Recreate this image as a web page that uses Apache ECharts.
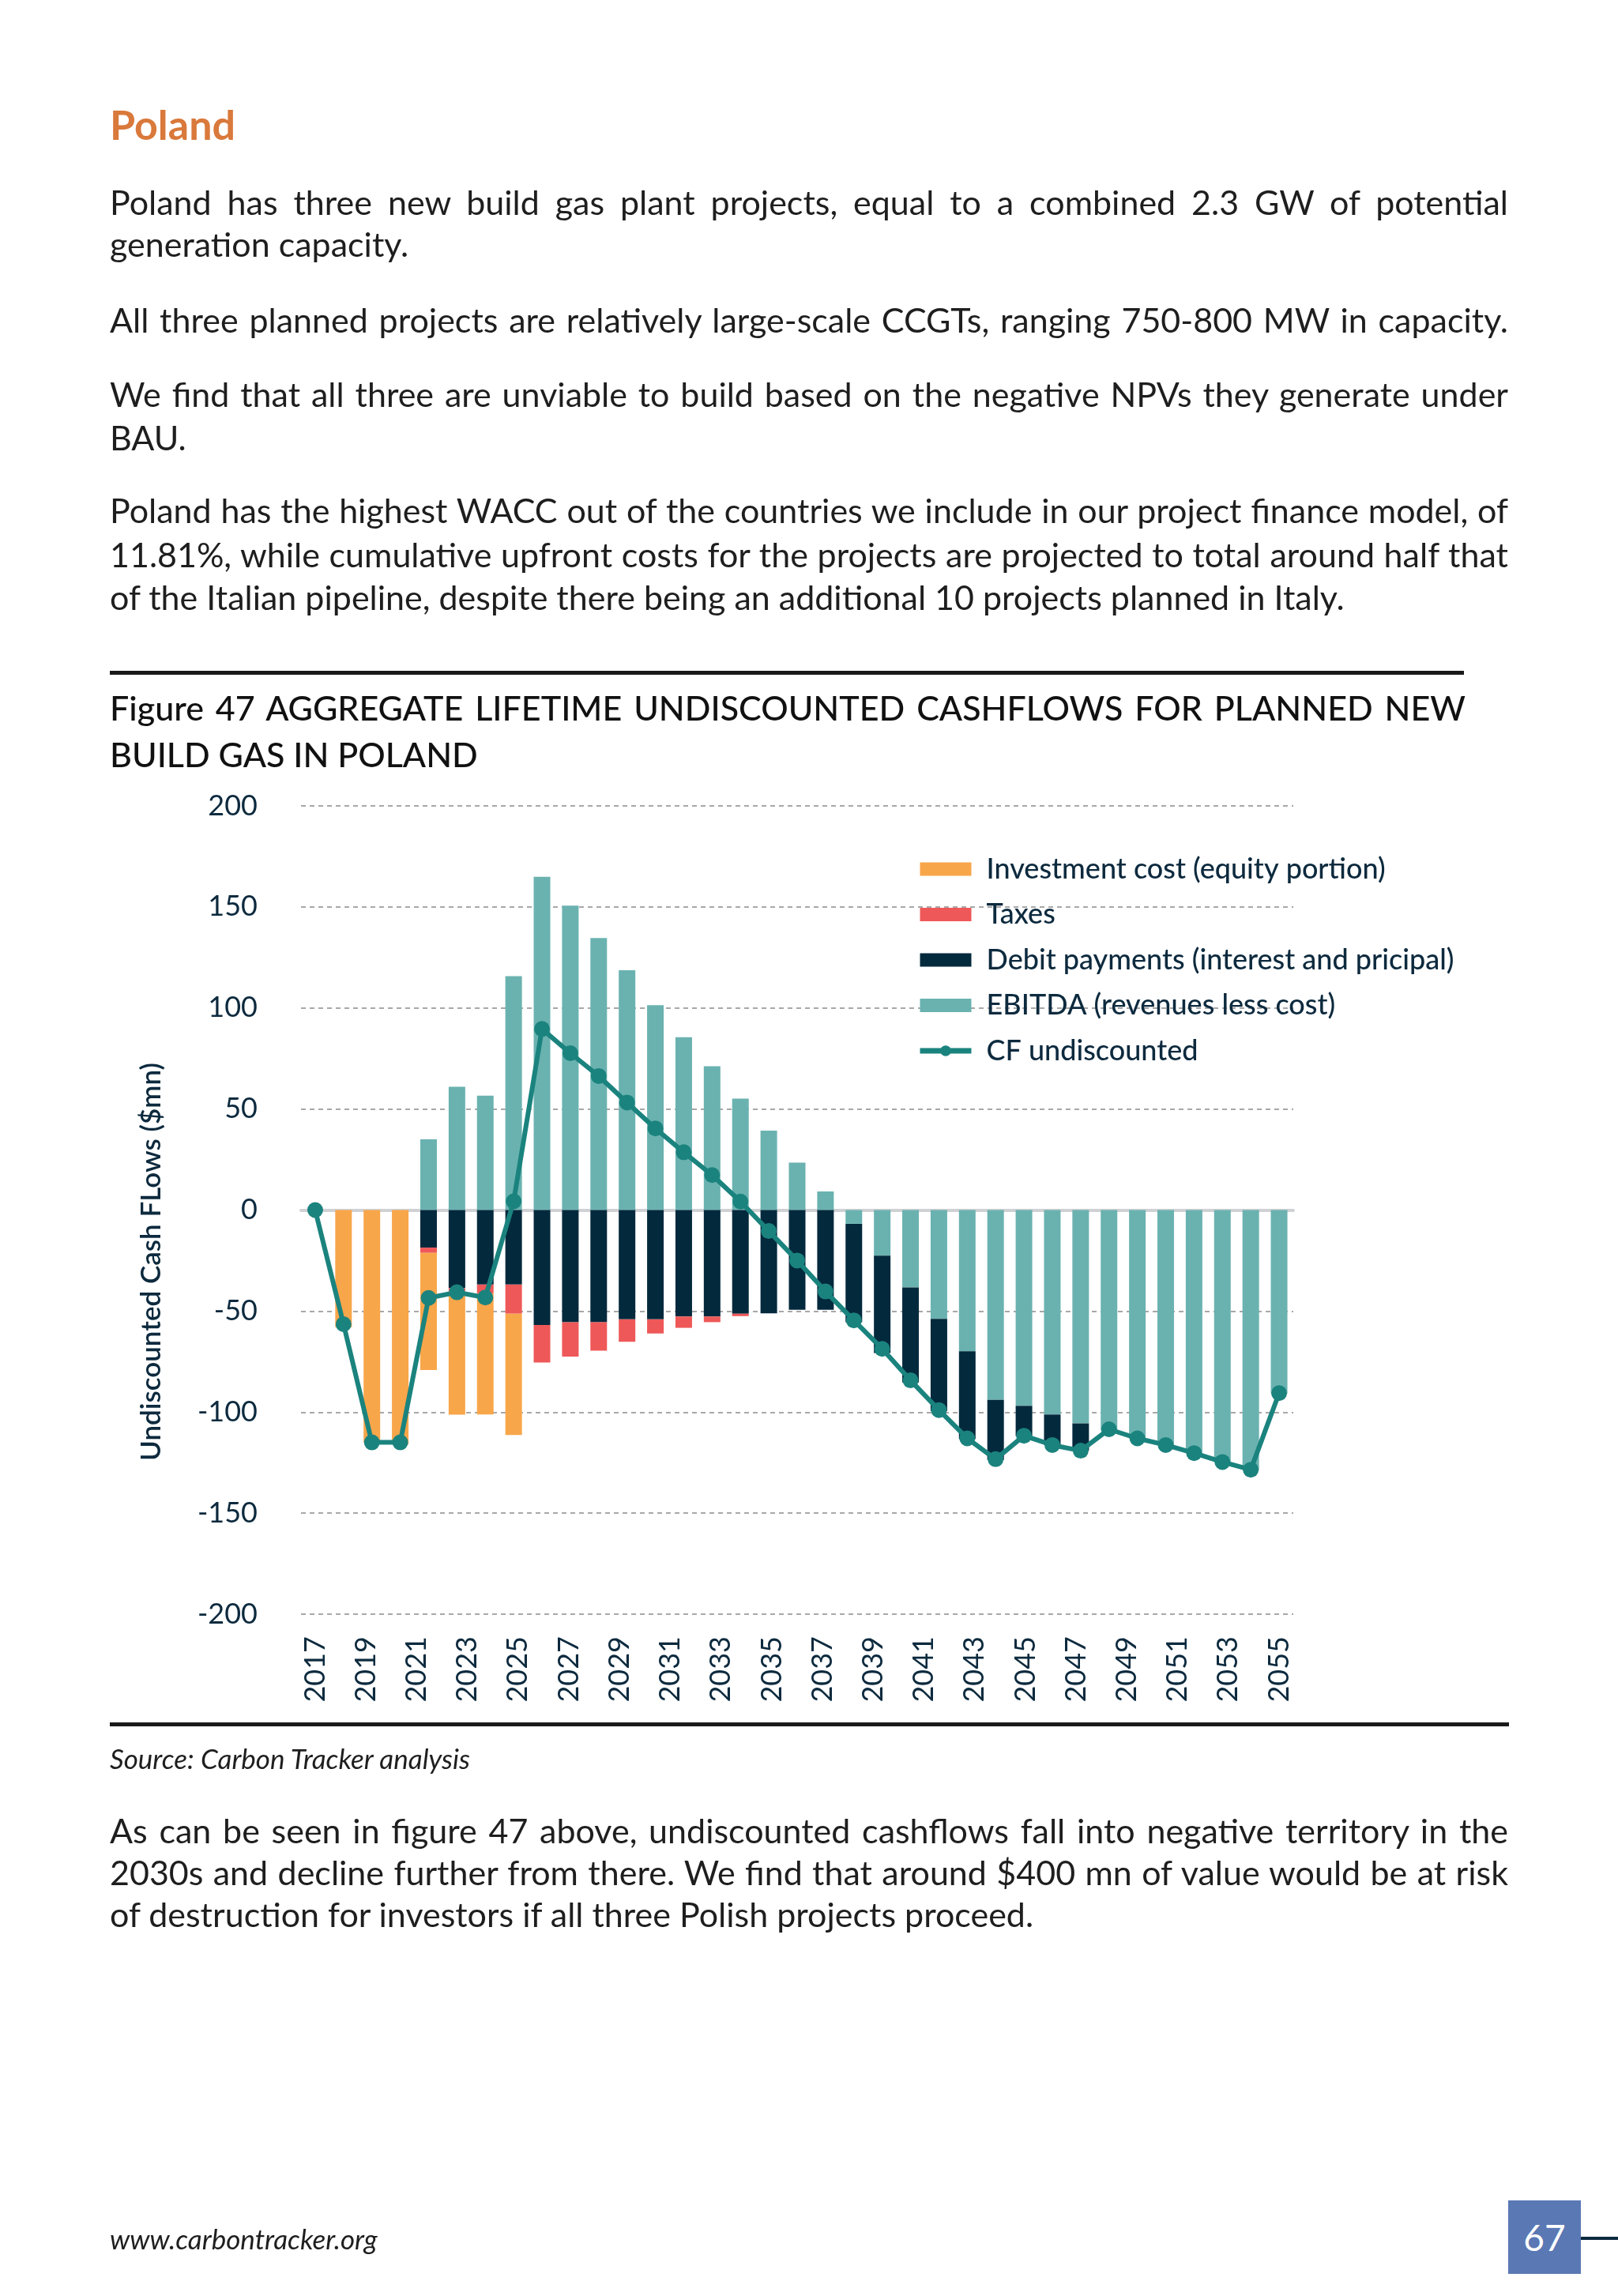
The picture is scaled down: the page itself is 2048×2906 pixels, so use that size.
<!DOCTYPE html>
<html>
<head>
<meta charset="utf-8">
<script src="https://cdn.jsdelivr.net/npm/echarts@6/dist/echarts.min.js"></script>
<style>
  html, body { margin:0; padding:0; background:#ffffff; }
  body { width:2048px; height:2906px; position:relative; overflow:hidden; font-family: Lato, "Noto Sans", sans-serif; color:#1e1e1e; }
  #chart { position:absolute; left:0; top:0; width:2048px; height:2906px; z-index:0; }
  .ln { position:absolute; left:139px; width:1770px; height:60px; line-height:60px; font-size:43px; white-space:nowrap; z-index:1; }
  .j { text-align:justify; text-align-last:justify; }
  .h { position:absolute; left:139px; font-size:52px; font-weight:700; color:#d9793b; line-height:60px; height:60px; z-index:1; }
  .ft { font-size:43px; font-weight:500; color:#111; width:1716px; }
  .rule { position:absolute; left:139px; height:5px; background:#1a1a1a; z-index:1; }
  .src { font-style:italic; font-size:35px; }
  .pg { position:absolute; left:1909px; top:2785px; width:92px; height:93px; background:#5a78b4; color:#fff; font-size:46px; line-height:93px; text-align:center; z-index:1; }
  .pgl { position:absolute; left:2001px; top:2831px; width:47px; height:4px; background:#0d2a3e; z-index:1; }
</style>
</head>
<body>
<div id="chart"></div>

<div class="h" style="top:127px;">Poland</div>

<div class="ln j" style="top:226px;">Poland has three new build gas plant projects, equal to a combined 2.3 GW of potential</div>
<div class="ln" style="top:279px;">generation capacity.</div>
<div class="ln j" style="top:375px;">All three planned projects are relatively large-scale CCGTs, ranging 750-800 MW in capacity.</div>
<div class="ln j" style="top:469px;">We find that all three are unviable to build based on the negative NPVs they generate under</div>
<div class="ln" style="top:524px;">BAU.</div>
<div class="ln j" style="top:616px;">Poland has the highest WACC out of the countries we include in our project finance model, of</div>
<div class="ln j" style="top:672px;">11.81%, while cumulative upfront costs for the projects are projected to total around half that</div>
<div class="ln" style="top:726px;">of the Italian pipeline, despite there being an additional 10 projects planned in Italy.</div>

<div class="rule" style="top:849px; width:1714px;"></div>
<div class="ln ft j" style="top:866px;">Figure 47 AGGREGATE LIFETIME UNDISCOUNTED CASHFLOWS FOR PLANNED NEW</div>
<div class="ln ft" style="top:925px;">BUILD GAS IN POLAND</div>

<div class="rule" style="top:2180px; width:1771px;"></div>
<div class="ln src" style="top:2195px;">Source: Carbon Tracker analysis</div>

<div class="ln j" style="top:2287px;">As can be seen in figure 47 above, undiscounted cashflows fall into negative territory in the</div>
<div class="ln j" style="top:2340px;">2030s and decline further from there. We find that around $400 mn of value would be at risk</div>
<div class="ln" style="top:2393px;">of destruction for investors if all three Polish projects proceed.</div>

<div class="ln src" style="top:2803px;">www.carbontracker.org</div>
<div class="pg">67</div>
<div class="pgl"></div>

<script>
// Data categories (one per plotted year position)
const years = ['2017','2018','2019','2020','2021','2022','2023','2024','2025','2026',
               '2027','2028','2029','2030','2031','2032','2033','2034','2035','2036',
               '2037','2038','2039','2040','2041','2042','2043','2044','2045','2046',
               '2047','2048','2049','2050','2051'];
// Tick labels printed under the axis
const tickLabels = ['2017','2019','2021','2023','2025','2027','2029','2031','2033','2035',
                    '2037','2039','2041','2043','2045','2047','2049','2051','2053','2055'];

const investment = [null,-58,-115,-116,-58,-61,-60,-60,null,null,
                    null,null,null,null,null,null,null,null,null,null,
                    null,null,null,null,null,null,null,null,null,null,
                    null,null,null,null,null];
const taxes = [null,null,null,null,-2.6,-1.7,-4.3,-14.4,-18.6,-17,
               -14.1,-11.1,-7,-5.6,-2.8,-1.2,null,null,null,null,
               null,null,null,null,null,null,null,null,null,null,
               null,null,null,null,null];
const debt = [null,null,null,null,-18.6,-38.6,-36.9,-36.9,-56.9,-55.5,
              -55.5,-54.1,-54.1,-52.7,-52.7,-51.3,-51.1,-49.4,-49.4,-48.7,
              -48.2,-47,-45.6,-43.5,-29.9,-15,-15,-13.5,null,null,
              null,null,null,null,null];
const ebitda = [null,null,null,null,35,61,56.6,115.7,164.9,150.6,
                134.6,118.7,101.4,85.5,71.2,55.1,39.3,23.5,9.2,-6.8,
                -22.6,-38.3,-53.9,-69.9,-93.9,-96.9,-101.2,-105.6,-109,-113,
                -116.3,-120.3,-124.7,-128.5,-90.8];
const cfUndiscounted = [0,-56.5,-115,-115,-43.5,-40.7,-43.3,4.3,89.6,77.6,
                        66.3,53.2,40.4,28.6,17.3,4.2,-10.4,-25,-40.3,-54.6,
                        -68.7,-84.3,-99,-113,-123.3,-111.7,-116.3,-119.1,-108.5,-113,
                        -116.3,-120.3,-124.7,-128.5,-90.6];

const NAVY = '#0d2a3e';
const CF_COLOR = '#1b837e';
const chart = echarts.init(document.getElementById('chart'), null, {renderer:'canvas'});
const option = {
  animation: false,
  backgroundColor: 'transparent',
  textStyle: { fontFamily: 'Lato' },
  grid: [
    { left: 381, top: 1020, width: 1256, height: 1023 },
    { left: 399, top: 1020, width: 1220, height: 1023 }
  ],
  legend: {
    orient: 'vertical', left: 1156, top: 1075,
    itemWidth: 65, itemHeight: 17, itemGap: 17.5,
    textStyle: { fontSize: 36, color: NAVY, lineHeight: 40, fontWeight: 500, padding: [0,0,0,14] },
    data: [
      { name: 'Investment cost (equity portion)', icon: 'rect' },
      { name: 'Taxes', icon: 'rect' },
      { name: 'Debit payments (interest and pricipal)', icon: 'rect' },
      { name: 'EBITDA (revenues less cost)', icon: 'rect' },
      { name: 'CF undiscounted', lineStyle: { width: 7, color: CF_COLOR }, itemStyle: { color: CF_COLOR } }
    ]
  },
  xAxis: [
    { type: 'category', gridIndex: 0, data: years,
      axisLine: { onZero: true, lineStyle: { color: '#cfd1d4', width: 4 } },
      axisTick: { show: false }, axisLabel: { show: false }, splitLine: { show: false } },
    { type: 'category', gridIndex: 1, data: tickLabels, boundaryGap: false,
      axisLine: { show: false }, axisTick: { show: false },
      axisLabel: { rotate: 90, interval: 0, margin: 28, fontSize: 36, color: NAVY } }
  ],
  yAxis: [
    { type: 'value', gridIndex: 0, min: -200, max: 200, interval: 50,
      axisLine: { show: false }, axisTick: { show: false },
      axisLabel: { fontSize: 36, color: NAVY, margin: 55 },
      splitLine: { lineStyle: { type: [6, 5], color: '#8c8c8c', width: 1.5 } } },
    { type: 'value', gridIndex: 1, min: -200, max: 200, show: false }
  ],
  graphic: [
    { type: 'text', x: 192, y: 1597, rotation: Math.PI / 2,
      style: { text: 'Undiscounted Cash FLows ($mn)', font: '600 35px Lato', fill: NAVY,
               align: 'center', verticalAlign: 'middle' } }
  ],
  series: [
    { name: 'EBITDA (revenues less cost)', type: 'bar', stack: 'cf', data: ebitda,
      barWidth: 21, itemStyle: { color: '#6ab2b0' } },
    { name: 'Debit payments (interest and pricipal)', type: 'bar', stack: 'cf', data: debt,
      itemStyle: { color: '#03293d' } },
    { name: 'Taxes', type: 'bar', stack: 'cf', data: taxes,
      itemStyle: { color: '#ee5858' } },
    { name: 'Investment cost (equity portion)', type: 'bar', stack: 'cf', data: investment,
      itemStyle: { color: '#f8a64a' } },
    { name: 'CF undiscounted', type: 'line', data: cfUndiscounted, z: 5,
      symbol: 'circle', symbolSize: 20, showAllSymbol: true,
      lineStyle: { width: 6, color: CF_COLOR }, itemStyle: { color: CF_COLOR } }
  ]
};
chart.setOption(option);
</script>
</body>
</html>
